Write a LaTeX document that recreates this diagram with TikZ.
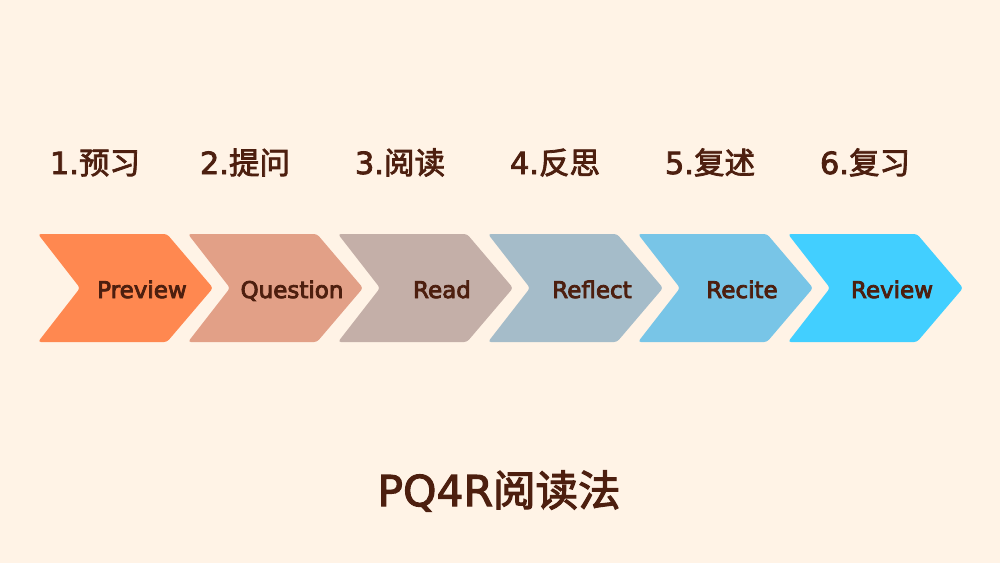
\documentclass[tikz,border=0pt]{standalone}
\usepackage{fontspec}
\setmainfont{DejaVu Sans}[FakeBold=2.5]
\newfontfamily\cjk[FakeBold=2.5]{Noto Sans CJK SC}
\newfontfamily\stepfont[FakeBold=3.5]{DejaVu Sans}
\definecolor{bg}{HTML}{FFF3E6}
\definecolor{ink}{HTML}{4D1F0F}
\definecolor{c1}{HTML}{FF8850}
\definecolor{c2}{HTML}{E2A087}
\definecolor{c3}{HTML}{C4AFA8}
\definecolor{c4}{HTML}{A5BCC9}
\definecolor{c5}{HTML}{78C5E7}
\definecolor{c6}{HTML}{42CFFF}
\begin{document}
\begin{tikzpicture}[x=1pt,y=-1pt,
  chev/.style={rounded corners=3pt},
  steplabel/.style={text=ink,font=\stepfont\fontsize{23}{23}\selectfont,anchor=base,inner sep=0pt},
  toplabel/.style={text=ink,font=\fontsize{30.5}{30.5}\selectfont,anchor=base,inner sep=0pt},
  titlelabel/.style={text=ink,font=\fontsize{42.5}{42.5}\selectfont,anchor=base,inner sep=0pt}]
\fill[bg] (0,0) rectangle (1000,563);
\useasboundingbox (0,0) rectangle (1000,563);
\foreach \i/\c/\t in {0/c1/Preview,1/c2/Question,2/c3/Read,3/c4/Reflect,4/c5/Recite,5/c6/Review}{
  \pgfmathsetmacro{\L}{38+150*\i}
  \fill[\c,chev] (\L,234) -- (\L+129,234) -- (\L+175,288) -- (\L+129,342) -- (\L,342) -- (\L+42,288) -- cycle;
  \node[steplabel] (s\i) at (\L+104,298) {\t};
}
\node[toplabel] (t1) at (95,174) {1.{\cjk 预习}};
\node[toplabel] (t2) at (245,174) {2.{\cjk 提问}};
\node[toplabel] (t3) at (400,174) {3.{\cjk 阅读}};
\node[toplabel] (t4) at (555,174) {4.{\cjk 反思}};
\node[toplabel] (t5) at (710,174) {5.{\cjk 复述}};
\node[toplabel] (t6) at (865,174) {6.{\cjk 复习}};
\node[titlelabel] (title) at (499,506) {PQ4R{\cjk 阅读法}};
\end{tikzpicture}
\end{document}
